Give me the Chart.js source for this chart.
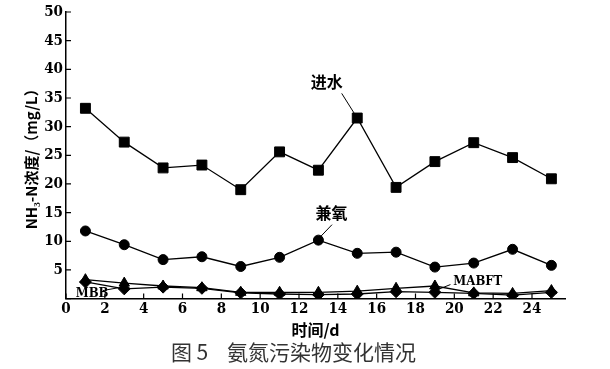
<!DOCTYPE html>
<html>
<head>
<meta charset="utf-8">
<script src="https://cdn.jsdelivr.net/npm/chart.js@4/dist/chart.umd.min.js"></script>
<style>
  html, body { margin: 0; padding: 0; background: #fff; }
  #wrap { width: 610px; height: 369px; }
</style>
</head>
<body>
<div id="wrap"><canvas id="chart" width="610" height="369"></canvas></div>
<script>
// days (x values)
const days = [1, 3, 5, 7, 9, 11, 13, 15, 17, 19, 21, 23, 25];
// NH3-N concentration, mg/L
const jinShui = [33.2, 27.3, 22.8, 23.3, 19.0, 25.6, 22.4, 31.5, 19.4, 23.9, 27.2, 24.6, 20.9];
const jianYang = [11.8, 9.4, 6.8, 7.3, 5.6, 7.2, 10.2, 7.9, 8.1, 5.5, 6.2, 8.6, 5.8];
const mabft = [3.3, 2.7, 2.2, 1.9, 1.1, 1.1, 1.1, 1.3, 1.8, 2.2, 1.0, 0.9, 1.4];
const mbb = [2.9, 1.7, 2.0, 1.8, 1.0, 0.8, 0.7, 0.8, 1.2, 1.1, 0.9, 0.6, 1.1];

const xTicks = [0, 2, 4, 6, 8, 10, 12, 14, 16, 18, 20, 22, 24];
const yTicks = [0, 5, 10, 15, 20, 25, 30, 35, 40, 45, 50];

// callout labels: [text, label x, label y, line from (x,y), line to (x,y)] in data units
const callouts = [
    ['进水', 12.6, 37.8, 14.2, 35.8, 14.85, 32.3],
    ['兼氧', 12.85, 14.9, 13.7, 12.9, 13.05, 10.6],
    ['MBB', 0.5, 0.9, 1.9, 1.4, 2.7, 1.9],
    ['MABFT', 19.95, 3.0, 19.8, 2.45, 19.1, 1.5]
];

const toPts = (ys) => days.map((d, i) => ({ x: d, y: ys[i] }));

const innerTicks = {
    id: 'innerTicks',
    afterDraw(chart) {
        const ctx = chart.ctx;
        const xs = chart.scales.x, ys = chart.scales.y;
        const a = chart.chartArea;
        ctx.save();
        ctx.strokeStyle = '#000';
        ctx.lineWidth = 1.2;
        ctx.beginPath();
        xTicks.forEach(v => {
            const px = xs.getPixelForValue(v);
            ctx.moveTo(px, a.bottom);
            ctx.lineTo(px, a.bottom - 5);
        });
        yTicks.forEach(v => {
            const py = ys.getPixelForValue(v);
            ctx.moveTo(a.left, py);
            ctx.lineTo(a.left + 5, py);
        });
        ctx.stroke();

        // callouts
        ctx.lineWidth = 1;
        callouts.forEach(c => {
            ctx.beginPath();
            ctx.moveTo(xs.getPixelForValue(c[3]), ys.getPixelForValue(c[4]));
            ctx.lineTo(xs.getPixelForValue(c[5]), ys.getPixelForValue(c[6]));
            ctx.stroke();
            const isLatin = /^[A-Z]/.test(c[0]);
            ctx.font = isLatin ? 'bold 13px "DejaVu Serif Condensed", serif' : 'bold 16px "Noto Sans CJK SC"';
            ctx.fillStyle = '#000';
            ctx.textAlign = 'left';
            ctx.textBaseline = 'middle';
            ctx.fillText(c[0], xs.getPixelForValue(c[1]), ys.getPixelForValue(c[2]));
        });
        ctx.restore();
    }
};

const tickFont = { family: '"DejaVu Serif Condensed", serif', size: 15, weight: 'bold' };

new Chart('chart', {
    type: 'line',
    data: {
        datasets: [
            { label: '进水', data: toPts(jinShui), pointStyle: 'rect', pointRadius: 7 },
            { label: '兼氧', data: toPts(jianYang), pointStyle: 'circle', pointRadius: 5 },
            { label: 'MABFT', data: toPts(mabft), pointStyle: 'triangle', pointRadius: 6 },
            { label: 'MBB', data: toPts(mbb), pointStyle: 'rectRot', pointRadius: 6 }
        ].map(ds => Object.assign(ds, {
            borderColor: '#000',
            backgroundColor: '#000',
            borderWidth: 1.3,
            pointBorderWidth: 1,
            tension: 0
        }))
    },
    options: {
        responsive: false,
        animation: false,
        layout: { padding: { top: 12, right: 45, left: 22, bottom: 4 } },
        plugins: {
            legend: { display: false },
            tooltip: { enabled: false },
            title: {
                display: true,
                position: 'bottom',
                text: '图 5    氨氮污染物变化情况',
                color: '#333',
                font: { family: '"Noto Sans CJK SC"', size: 21, weight: 'normal' },
                padding: { top: 0, bottom: 0 }
            }
        },
        scales: {
            x: {
                type: 'linear',
                min: 0,
                max: 25.7,
                afterBuildTicks: s => { s.ticks = xTicks.map(v => ({ value: v })); },
                ticks: { color: '#000', font: tickFont, padding: 2 },
                grid: { drawOnChartArea: false, drawTicks: false },
                border: { color: '#000', width: 1.5 },
                title: {
                    display: true,
                    text: '时间/d',
                    color: '#000',
                    font: { family: '"Noto Sans CJK SC"', size: 16, weight: 'bold' },
                    padding: { top: 0, bottom: 0 }
                }
            },
            y: {
                min: 0,
                max: 50,
                afterBuildTicks: s => { s.ticks = yTicks.map(v => ({ value: v })); },
                afterFit: s => { s.width = 44; },
                ticks: {
                    color: '#000',
                    font: tickFont,
                    padding: 3,
                    callback: v => v === 0 ? '' : v
                },
                grid: { drawOnChartArea: false, drawTicks: false },
                border: { color: '#000', width: 1.5 },
                title: {
                    display: true,
                    text: 'NH₃-N浓度/（mg/L）',
                    color: '#000',
                    font: { family: '"Noto Sans CJK SC"', size: 15, weight: 'bold' },
                    padding: { top: 0, bottom: 0 }
                }
            }
        }
    },
    plugins: [innerTicks]
});
</script>
</body>
</html>
